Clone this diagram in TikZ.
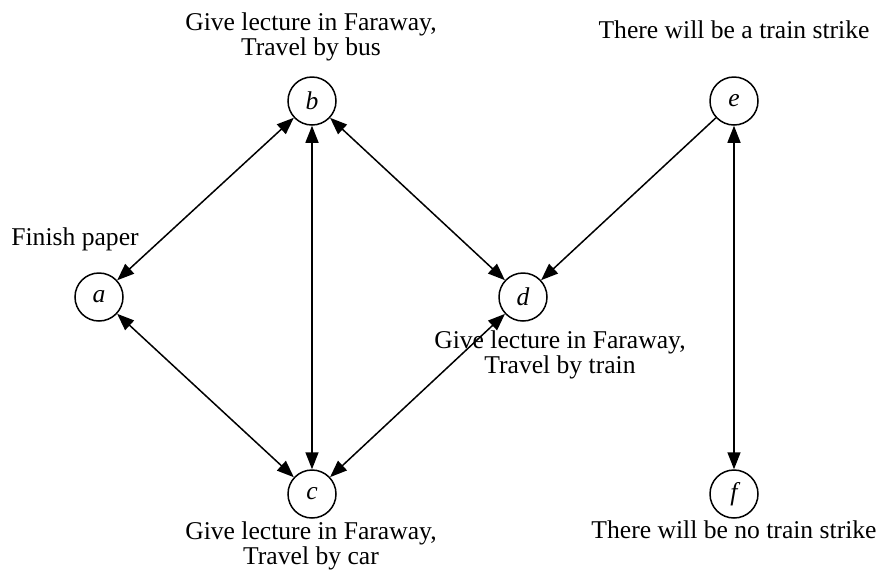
\documentclass[tikz,border=0pt]{standalone}
\usepackage{fontspec}
\setmainfont{Liberation Serif}
\usetikzlibrary{arrows.meta}
\tikzset{
  state/.style={draw, circle, line width=0.75pt, minimum size=24pt,
                inner sep=0pt, font=\fontsize{12.8pt}{12.5pt}\selectfont\itshape},
  note/.style={inner sep=0pt, align=center,
               font=\fontsize{12.8pt}{12.5pt}\selectfont},
  link/.style={line width=0.75pt, >={Triangle[length=8.5pt, width=6.5pt]}},
}

\begin{document}
\begin{tikzpicture}[x=0.5pt, y=-0.5pt]
    \useasboundingbox (0,0) rectangle (878,570);
    \node[state] (a) at (99,297) {a};
    \node[state] (b) at (312,101) {b};
    \node[state] (c) at (312,494) {c};
    \node[state] (d) at (523,297) {d};
    \node[state] (e) at (734,101) {e};
    \node[state] (f) at (734,494) {f};
    % labels
    \node[note, anchor=base] (la) at (75,245) {Finish paper};
    \node[note, anchor=north] (lb) at (311,12) {Give lecture in Faraway,\\Travel by bus};
    \node[note, anchor=north] (lc) at (311,521) {Give lecture in Faraway,\\Travel by car};
    \node[note, anchor=north] (ld) at (560,330) {Give lecture in Faraway,\\Travel by train};
    \node[note, anchor=base] (le) at (734,38) {There will be a train strike};
    \node[note, anchor=base] (lf) at (734,538) {There will be no train strike};
    % edges
    \draw[link, <->] (a) -- (b);
    \draw[link, <->] (a) -- (c);
    \draw[link, <->] (b) -- (c);
    \draw[link, <->] (b) -- (d);
    \draw[link, <->] (c) -- (d);
    \draw[link, ->] (e) -- (d);
    \draw[link, <->] (e) -- (f);
\end{tikzpicture}
\end{document}
